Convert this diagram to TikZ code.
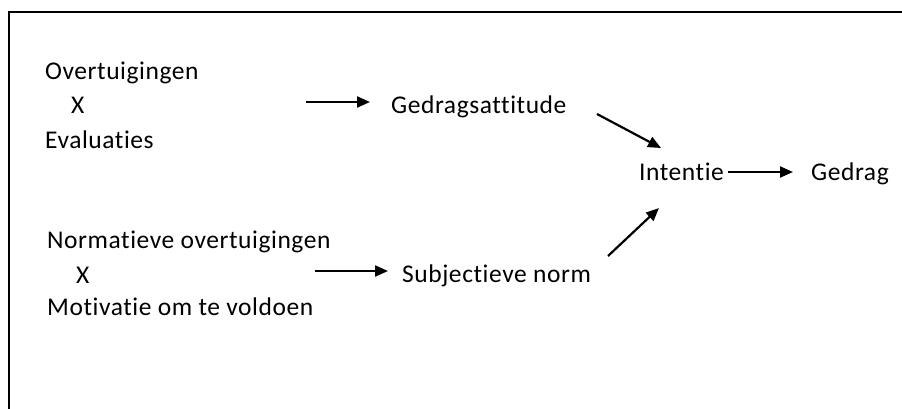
\documentclass[tikz,border=0pt]{standalone}
\usepackage{fontspec}
\setmainfont{Carlito}[LetterSpace=2.2,Ligatures=NoCommon]
\usetikzlibrary{arrows.meta}
\begin{document}
\begin{tikzpicture}[x=1pt,y=-1pt,
  lbl/.style={anchor=base west,inner sep=0pt,font=\fontsize{25.5}{30}\selectfont},
  arr/.style={line width=2.2pt,-{Triangle[length=13pt,width=11pt]}}]
\useasboundingbox (0,0) rectangle (902,408);
\clip (0,0) rectangle (902,408);
\draw[line width=2.4pt] (9,12) rectangle (930,440);
% upper group
\node[lbl] (ovt) at (45,79) {Overtuigingen};
\node[lbl] (x1) at (71,113) {X};
\node[lbl] (eval) at (45,148) {Evaluaties};
\node[lbl] (gatt) at (391,113) {Gedragsattitude};
% lower group
\node[lbl] (nov) at (47,248) {Normatieve overtuigingen};
\node[lbl] (x2) at (76,283) {X};
\node[lbl] (mot) at (47,315) {Motivatie om te voldoen};
\node[lbl] (snorm) at (402,282) {Subjectieve norm};
% right
\node[lbl] (int) at (639,180) {Intentie};
\node[lbl] (ged) at (811,180) {Gedrag};
% arrow end points
\coordinate (a1s) at (306,102);
\coordinate (a1e) at (370,102);
\coordinate (a2s) at (597,114);
\coordinate (a2e) at (661,148);
\coordinate (a3s) at (728,172);
\coordinate (a3e) at (793,172);
\coordinate (a4s) at (315,271);
\coordinate (a4e) at (388,271);
\coordinate (a5s) at (608,256);
\coordinate (a5e) at (659,208);
\draw[arr] (a1s) -- (a1e);
\draw[arr] (a2s) -- (a2e);
\draw[arr] (a3s) -- (a3e);
\draw[arr] (a4s) -- (a4e);
\draw[arr] (a5s) -- (a5e);
\end{tikzpicture}
\end{document}
